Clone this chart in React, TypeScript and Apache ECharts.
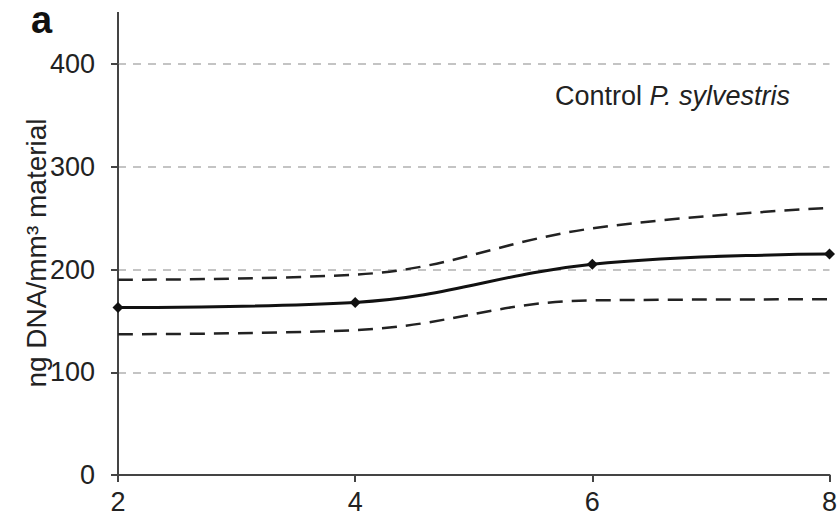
import React, { useEffect, useRef } from "react";
import * as echarts from "echarts";

const xValues = [2, 4, 6, 8];
const meanValues = [163, 168, 205, 215];
const upperValues = [190, 195, 240, 260];
const lowerValues = [137, 141, 170, 171];
const yTicks = [0, 100, 200, 300, 400];

export default function App() {
  const ref = useRef<HTMLDivElement>(null);
  useEffect(() => {
    const chart = echarts.init(ref.current!, null, { renderer: "svg" });
    const font = "Liberation Sans, Arial, sans-serif";
    const pair = (vals: number[]) => xValues.map((x, i) => [x, vals[i]]);
    chart.setOption({
      animation: false,
      grid: { left: 118, right: 8, top: 64, bottom: 43 },
      xAxis: {
        type: "value",
        min: 2,
        max: 8,
        interval: 2,
        axisLine: { lineStyle: { color: "#444", width: 2 } },
        axisTick: { show: true, length: 7, lineStyle: { color: "#444", width: 2 } },
        axisLabel: { color: "#222", fontSize: 27, fontFamily: font, margin: 13 },
        splitLine: { show: false },
      },
      yAxis: {
        type: "value",
        min: yTicks[0],
        max: yTicks[yTicks.length - 1],
        interval: 100,
        axisLine: { show: true, lineStyle: { color: "#444", width: 2 } },
        axisTick: { show: true, length: 7, lineStyle: { color: "#444", width: 2 } },
        axisLabel: { color: "#222", fontSize: 27, fontFamily: font, margin: 23 },
        splitLine: { show: true, lineStyle: { color: "#c4c4c4", width: 2, type: [8, 7] } },
      },
      graphic: [
        { type: "line", shape: { x1: 118, y1: 12, x2: 118, y2: 64 }, style: { stroke: "#444", lineWidth: 2 } },
        {
          type: "text",
          x: 31,
          y: 20,
          style: { text: "a", fontSize: 38, fontWeight: "bold", fontFamily: font, fill: "#111", align: "left", verticalAlign: "middle" },
        },
        {
          type: "text",
          x: 36,
          y: 253,
          rotation: Math.PI / 2,
          style: {
            text: "ng DNA/mm\u00b3 material",
            fontSize: 28,
            fontFamily: font,
            fill: "#222",
            align: "center",
            verticalAlign: "middle",
          },
        },
        {
          type: "text",
          x: 555,
          y: 96,
          style: {
            text: "{n|Control }{i|P. sylvestris}",
            align: "left",
            verticalAlign: "middle",
            rich: {
              n: { fontSize: 27, fontFamily: font, fill: "#222" },
              i: { fontSize: 27, fontFamily: font, fontStyle: "italic", fill: "#222" },
            },
          },
        },
      ],
      series: [
        {
          type: "line",
          data: pair(upperValues),
          smooth: 0.4,
          showSymbol: false,
          lineStyle: { color: "#222", width: 2.5, type: [15, 9] },
        },
        {
          type: "line",
          data: pair(lowerValues),
          smooth: 0.4,
          showSymbol: false,
          lineStyle: { color: "#222", width: 2.5, type: [15, 9] },
        },
        {
          type: "line",
          data: pair(meanValues),
          smooth: 0.4,
          symbol: "diamond",
          symbolSize: 11,
          itemStyle: { color: "#111" },
          lineStyle: { color: "#111", width: 3 },
        },
      ],
    });
    return () => chart.dispose();
  }, []);
  return <div ref={ref} style={{ width: 840, height: 518, position: "absolute", left: 0, top: 0 }} />;
}
